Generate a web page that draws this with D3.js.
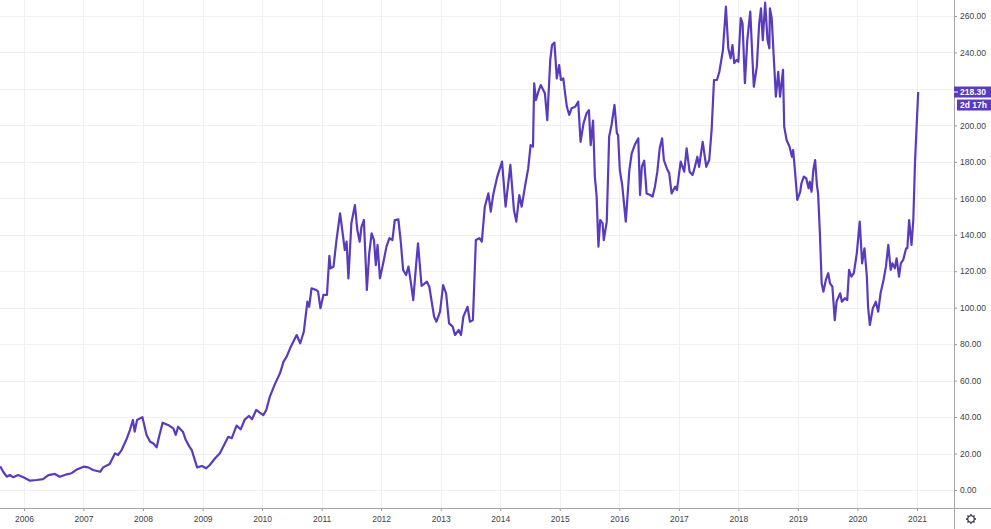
<!DOCTYPE html>
<html>
<head>
<meta charset="utf-8">
<script src="https://cdn.jsdelivr.net/npm/d3@7"></script>
<style>
  html, body { margin: 0; padding: 0; background: #fff; }
  svg { display: block; }
</style>
</head>
<body>
<figure id="price-chart" style="margin:0"></figure>
<script>
// weekly close, time given as decimal year
const times = [
  2005.60, 2005.65, 2005.71, 2005.76, 2005.82, 2005.90, 2005.99, 2006.10, 2006.21, 2006.32,
  2006.41, 2006.52, 2006.60, 2006.72, 2006.80, 2006.89, 2007.00, 2007.08, 2007.16, 2007.28,
  2007.33, 2007.44, 2007.53, 2007.58, 2007.64, 2007.73, 2007.78, 2007.83, 2007.86, 2007.90,
  2007.95, 2007.99, 2008.06, 2008.12, 2008.17, 2008.23, 2008.27, 2008.33, 2008.42, 2008.51,
  2008.55, 2008.59, 2008.67, 2008.72, 2008.78, 2008.82, 2008.87, 2008.91, 2008.99, 2009.06,
  2009.12, 2009.21, 2009.29, 2009.36, 2009.43, 2009.49, 2009.57, 2009.64, 2009.71, 2009.78,
  2009.83, 2009.90, 2009.96, 2010.02, 2010.07, 2010.13, 2010.22, 2010.30, 2010.36, 2010.41,
  2010.47, 2010.58, 2010.64, 2010.70, 2010.76, 2010.79, 2010.83, 2010.91, 2010.94, 2010.98,
  2011.03, 2011.09, 2011.13, 2011.15, 2011.20, 2011.25, 2011.31, 2011.39, 2011.42, 2011.45,
  2011.50, 2011.56, 2011.60, 2011.64, 2011.67, 2011.71, 2011.76, 2011.80, 2011.84, 2011.88,
  2011.91, 2011.94, 2011.98, 2012.04, 2012.09, 2012.14, 2012.19, 2012.23, 2012.29, 2012.33,
  2012.37, 2012.42, 2012.46, 2012.51, 2012.54, 2012.59, 2012.62, 2012.68, 2012.77, 2012.81,
  2012.89, 2012.93, 2012.99, 2013.04, 2013.09, 2013.14, 2013.20, 2013.24, 2013.30, 2013.34,
  2013.38, 2013.45, 2013.49, 2013.54, 2013.59, 2013.65, 2013.69, 2013.74, 2013.80, 2013.84,
  2013.88, 2013.95, 2014.03, 2014.09, 2014.17, 2014.23, 2014.27, 2014.32, 2014.36, 2014.42,
  2014.47, 2014.51, 2014.55, 2014.57, 2014.60, 2014.64, 2014.68, 2014.75, 2014.79, 2014.84,
  2014.87, 2014.91, 2014.95, 2014.99, 2015.02, 2015.06, 2015.09, 2015.12, 2015.16, 2015.20,
  2015.26, 2015.31, 2015.35, 2015.40, 2015.45, 2015.49, 2015.52, 2015.56, 2015.59, 2015.62,
  2015.65, 2015.68, 2015.72, 2015.74, 2015.79, 2015.83, 2015.87, 2015.92, 2015.96, 2015.98,
  2016.01, 2016.05, 2016.11, 2016.17, 2016.21, 2016.26, 2016.32, 2016.35, 2016.38, 2016.42,
  2016.46, 2016.52, 2016.56, 2016.60, 2016.64, 2016.68, 2016.72, 2016.75, 2016.80, 2016.84,
  2016.88, 2016.94, 2016.97, 2017.03, 2017.09, 2017.13, 2017.18, 2017.23, 2017.27, 2017.31,
  2017.34, 2017.40, 2017.46, 2017.51, 2017.55, 2017.59, 2017.64, 2017.68, 2017.74, 2017.79,
  2017.83, 2017.87, 2017.90, 2017.93, 2017.97, 2018.00, 2018.04, 2018.07, 2018.11, 2018.15,
  2018.20, 2018.24, 2018.26, 2018.31, 2018.35, 2018.38, 2018.41, 2018.45, 2018.49, 2018.52,
  2018.53, 2018.56, 2018.60, 2018.63, 2018.67, 2018.70, 2018.75, 2018.77, 2018.81, 2018.86,
  2018.90, 2018.92, 2018.95, 2018.99, 2019.04, 2019.06, 2019.10, 2019.14, 2019.18, 2019.20,
  2019.23, 2019.26, 2019.29, 2019.32, 2019.34, 2019.37, 2019.40, 2019.43, 2019.47, 2019.51,
  2019.54, 2019.58, 2019.62, 2019.65, 2019.71, 2019.74, 2019.79, 2019.83, 2019.86, 2019.90,
  2019.94, 2019.99, 2020.04, 2020.08, 2020.12, 2020.16, 2020.18, 2020.21, 2020.26, 2020.31,
  2020.35, 2020.39, 2020.44, 2020.48, 2020.52, 2020.56, 2020.59, 2020.63, 2020.66, 2020.70,
  2020.73, 2020.77, 2020.82, 2020.84, 2020.87, 2020.91, 2020.94, 2020.97, 2021.02
];

const closes = [
  13.0, 10.0, 7.3, 8.2, 7.0, 8.2, 7.0, 5.1, 5.5, 6.0,
  8.2, 8.8, 7.3, 8.6, 9.2, 11.3, 12.8, 12.4, 11.0, 10.0,
  12.4, 14.3, 20.1, 19.2, 21.9, 28.4, 32.9, 38.4, 32.0, 38.4,
  39.3, 39.9, 30.2, 26.5, 25.6, 23.4, 29.2, 36.9, 35.7, 33.8,
  30.2, 34.7, 32.0, 27.4, 23.8, 21.9, 16.5, 12.4, 13.2, 11.9,
  13.7, 17.4, 20.1, 24.7, 29.2, 28.4, 35.3, 33.3, 38.8, 40.6,
  38.8, 43.9, 42.4, 41.1, 43.9, 51.2, 58.5, 64.0, 70.4, 73.0,
  77.7, 85.0, 80.5, 86.8, 103.3, 100.5, 110.6, 109.7, 108.8, 99.7,
  107.0, 107.0, 128.4, 121.6, 122.5, 137.1, 151.8, 131.6, 136.2, 116.1,
  146.3, 156.3, 142.6, 136.2, 144.4, 148.1, 109.7, 129.8, 140.8, 137.1,
  123.4, 134.4, 116.1, 125.2, 133.5, 138.1, 137.1, 148.1, 148.5, 136.2,
  120.7, 117.9, 122.5, 111.5, 104.2, 124.3, 135.3, 111.9, 114.3, 111.5,
  95.1, 92.3, 97.8, 112.4, 107.9, 91.4, 89.6, 85.0, 87.8, 85.0,
  95.1, 100.5, 92.3, 93.2, 137.1, 138.1, 136.2, 155.4, 162.7, 152.7,
  161.8, 171.9, 180.1, 155.4, 178.3, 153.6, 147.2, 161.8, 155.4, 167.3,
  176.4, 189.2, 188.3, 223.1, 213.9, 218.5, 222.1, 217.6, 202.9, 235.8,
  244.1, 245.4, 225.8, 233.1, 224.9, 225.8, 217.6, 210.2, 205.7, 209.4,
  210.2, 213.0, 191.0, 201.1, 206.6, 208.4, 189.2, 202.6, 171.9, 160.9,
  133.5, 148.1, 146.3, 137.1, 147.2, 193.8, 200.2, 211.2, 195.7, 194.7,
  175.5, 167.3, 147.2, 175.5, 184.7, 189.2, 192.9, 161.8, 177.3, 180.6,
  162.7, 161.8, 160.9, 166.4, 174.6, 187.4, 192.9, 181.0, 176.4, 173.7,
  162.7, 166.4, 164.6, 180.1, 174.6, 187.4, 174.6, 172.8, 177.3, 182.8,
  177.3, 191.0, 177.3, 181.0, 197.5, 224.9, 224.9, 229.4, 241.3, 265.1,
  242.3, 236.8, 244.1, 234.1, 235.9, 234.9, 258.8, 256.0, 223.1, 246.8,
  262.4, 234.1, 221.2, 232.2, 256.0, 264.2, 246.8, 267.3, 246.8, 242.3,
  264.2, 258.8, 234.1, 215.7, 229.4, 215.7, 230.4, 199.3, 192.0, 188.3,
  182.8, 186.5, 175.5, 159.1, 163.6, 168.2, 171.9, 171.0, 165.5, 169.1,
  163.6, 175.5, 181.0, 167.3, 162.7, 140.8, 113.4, 108.8, 115.2, 118.9,
  113.4, 111.5, 93.2, 103.3, 107.9, 103.3, 105.2, 104.2, 120.7, 117.0,
  118.9, 129.8, 147.2, 124.3, 132.6, 117.0, 100.5, 90.5, 99.7, 103.3,
  97.8, 107.9, 115.2, 122.5, 134.4, 120.7, 124.3, 121.6, 127.1, 117.0,
  124.3, 126.2, 132.6, 132.6, 148.1, 134.4, 148.1, 181.0, 218.3
];

const yearTicks = [2006, 2007, 2008, 2009, 2010, 2011, 2012, 2013, 2014, 2015, 2016, 2017, 2018, 2019, 2020, 2021];
const priceTicks = [0, 20, 40, 60, 80, 100, 120, 140, 160, 180, 200, 220, 240, 260];
const lastPrice = 218.30;
const countdown = "2d 17h";

const width = 991, height = 529;
const paneRight = 954, paneBottom = 508;
const purple = "#5a3bbd";

function toDate(t) {
  const yr = Math.floor(t);
  return new Date(new Date(yr, 0, 1).getTime() + (t - yr) * 365.25 * 864e5);
}

const data = times.map((t, i) => ({ date: toDate(t), close: closes[i] }));

const svg = d3.select("figure#price-chart")
  .append("svg")
  .attr("width", width)
  .attr("height", height);

const x = d3.scaleTime()
  .domain([new Date(2006, 0, 1), new Date(2021, 0, 1)])
  .range([24, 917]);

const y = d3.scaleLinear()
  .domain([0, 260])
  .range([490, 16]);

// grid
svg.append("g")
  .selectAll("line")
  .data(yearTicks)
  .enter()
  .append("line")
  .attr("x1", d => Math.round(x(new Date(d, 0, 1))) + 0.5)
  .attr("x2", d => Math.round(x(new Date(d, 0, 1))) + 0.5)
  .attr("y1", 0)
  .attr("y2", paneBottom)
  .style("stroke", "#eef0f4");

svg.append("g")
  .selectAll("line")
  .data(priceTicks)
  .enter()
  .append("line")
  .attr("x1", 0)
  .attr("x2", paneRight)
  .attr("y1", d => Math.round(y(d)) + 0.5)
  .attr("y2", d => Math.round(y(d)) + 0.5)
  .style("stroke", "#eef0f4");

// price line
svg.append("clipPath")
  .attr("id", "pane")
  .append("rect")
  .attr("x", 0).attr("y", 0)
  .attr("width", paneRight).attr("height", paneBottom);

svg.append("path")
  .datum(data)
  .attr("clip-path", "url(#pane)")
  .attr("d", d3.line().x(d => x(d.date)).y(d => y(d.close)))
  .style("fill", "none")
  .style("stroke", purple)
  .style("stroke-width", 2.2)
  .style("stroke-linejoin", "round");

// axes
const xAxis = svg.append("g")
  .attr("transform", `translate(0, ${paneBottom})`)
  .call(d3.axisBottom(x)
    .tickValues(yearTicks.map(d => new Date(d, 0, 1)))
    .tickFormat(d3.timeFormat("%Y"))
    .tickSize(3)
    .tickPadding(5));
xAxis.select(".domain").remove();
xAxis.selectAll("line").style("stroke", "#9598a1");
xAxis.selectAll("text")
  .style("font-family", "Liberation Sans, Arial, sans-serif")
  .style("font-size", "8.5px")
  .style("fill", "#3d3f46");

// the 220 label sits under the last-price box, so it is not drawn
const yAxis = svg.append("g")
  .attr("transform", `translate(${paneRight}, 0)`)
  .call(d3.axisRight(y)
    .tickValues(priceTicks.filter(d => Math.abs(y(d) - y(lastPrice)) > 12))
    .tickFormat(d3.format(".2f"))
    .tickSize(3)
    .tickPadding(3));
yAxis.select(".domain").remove();
yAxis.selectAll("line").style("stroke", "#9598a1");
yAxis.selectAll("text")
  .style("font-family", "Liberation Sans, Arial, sans-serif")
  .style("font-size", "8.5px")
  .style("fill", "#3d3f46");

svg.append("line")
  .attr("x1", 0).attr("x2", width)
  .attr("y1", paneBottom + 0.5).attr("y2", paneBottom + 0.5)
  .style("stroke", "#a3a6ae");

svg.append("line")
  .attr("x1", paneRight + 0.5).attr("x2", paneRight + 0.5)
  .attr("y1", 0).attr("y2", height)
  .style("stroke", "#a3a6ae");

// last price label
const yLast = y(lastPrice);
svg.append("rect")
  .attr("x", paneRight).attr("y", yLast - 5.5)
  .attr("width", width - paneRight).attr("height", 11)
  .style("fill", purple);
svg.append("line")
  .attr("x1", paneRight).attr("x2", paneRight + 4)
  .attr("y1", yLast).attr("y2", yLast)
  .style("stroke", "#fff");
svg.append("text")
  .attr("x", paneRight + 6).attr("y", yLast + 3)
  .text(lastPrice.toFixed(2))
  .style("font-family", "Liberation Sans, Arial, sans-serif")
  .style("font-size", "8.5px")
  .style("font-weight", "bold")
  .style("fill", "#fff");

svg.append("rect")
  .attr("x", paneRight + 3).attr("y", yLast + 7.5)
  .attr("width", width - paneRight - 3).attr("height", 11)
  .style("fill", purple);
svg.append("text")
  .attr("x", paneRight + 6).attr("y", yLast + 16)
  .text(countdown)
  .style("font-family", "Liberation Sans, Arial, sans-serif")
  .style("font-size", "8.5px")
  .style("font-weight", "bold")
  .style("fill", "#fff");

// settings gear
const gear = svg.append("g").attr("transform", "translate(971, 519)");
gear.append("circle").attr("r", 3.2)
  .style("fill", "none").style("stroke", "#2a2e39").style("stroke-width", 1.1);
gear.selectAll(".tooth")
  .data(d3.range(8))
  .enter()
  .append("line")
  .attr("class", "tooth")
  .attr("x1", d => 3.2 * Math.cos(d * Math.PI / 4))
  .attr("y1", d => 3.2 * Math.sin(d * Math.PI / 4))
  .attr("x2", d => 5 * Math.cos(d * Math.PI / 4))
  .attr("y2", d => 5 * Math.sin(d * Math.PI / 4))
  .style("stroke", "#2a2e39")
  .style("stroke-width", 1.3);
</script>
</body>
</html>
